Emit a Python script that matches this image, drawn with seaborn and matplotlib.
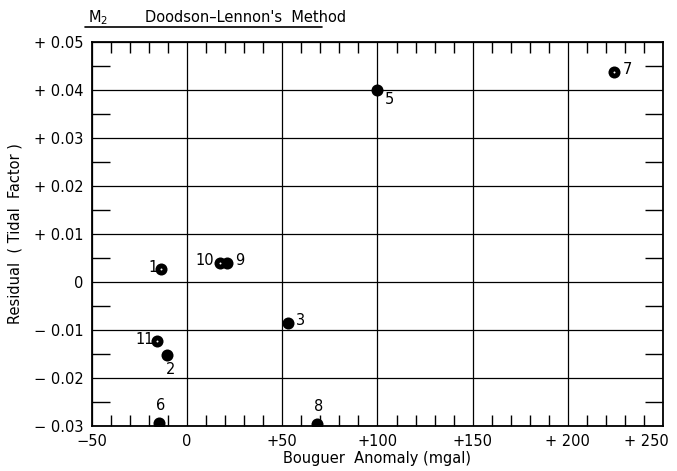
import numpy as np
import pandas as pd
import matplotlib
matplotlib.use("Agg")
import matplotlib.pyplot as plt
from matplotlib.lines import Line2D
from matplotlib.ticker import MultipleLocator
from matplotlib.transforms import ScaledTranslation
import seaborn as sns

# station number, bouguer anomaly (mgal), residual (tidal factor)
stations = ["1", "2", "3", "5", "6", "7", "8", "9", "10", "11"]
anomaly = [-14, -10.5, 53, 100, -15, 224, 68, 21, 17, -16]
residual = [0.0027, -0.0152, -0.0085, 0.040, -0.0294, 0.0438, -0.0296, 0.0040, 0.0040, -0.0123]
ringed = ["1", "7", "10", "11"]

x_ticks = [-50, 0, 50, 100, 150, 200, 250]
x_labels = ["\u221250", "0", "+50", "+100", "+150", "+ 200", "+ 250"]
y_ticks = [-0.03, -0.02, -0.01, 0, 0.01, 0.02, 0.03, 0.04, 0.05]
y_labels = ["\u2212 0.03", "\u2212 0.02", "\u2212 0.01", "0", "+ 0.01", "+ 0.02", "+ 0.03", "+ 0.04", "+ 0.05"]

# label offsets in points (styling only)
offsets = {"1": (-9, -4), "2": (-1, -16), "3": (6, -4), "5": (5, -12), "6": (-2, 7),
           "7": (7, -4), "8": (-2, 7), "9": (6, -4), "10": (-17, -4), "11": (-15, -4)}

df = pd.DataFrame({"station": stations, "anomaly": anomaly, "residual": residual})

sns.set_theme(style="white")
plt.rcParams["font.family"] = ["DejaVu Sans"]
plt.rcParams["text.color"] = "black"
plt.rcParams["axes.labelcolor"] = "black"
plt.rcParams["xtick.color"] = "black"
plt.rcParams["ytick.color"] = "black"

fig = plt.figure(figsize=(6.77, 4.71), dpi=100)
ax = fig.add_axes([0.1359, 0.0955, 0.8434, 0.8153])

sns.scatterplot(data=df, x="anomaly", y="residual", color="black", s=75,
                edgecolor="black", linewidth=0, ax=ax, zorder=5)
ring = df[df["station"].isin(ringed)]
ax.scatter(ring["anomaly"], ring["residual"], s=2, color="white",
           linewidths=0, zorder=6)

for st, xv, yv in zip(stations, anomaly, residual):
    dx, dy = offsets[st]
    ax.annotate(st, (xv, yv), xytext=(dx, dy), textcoords="offset points",
                fontsize=10.5, color="black", ha="left", va="bottom")

ax.set_xlim(-50, 250)
ax.set_ylim(-0.03, 0.05)
ax.set_xticks(x_ticks)
ax.set_xticklabels(x_labels, fontsize=10.5)
ax.set_yticks(y_ticks)
ax.set_yticklabels(y_labels, fontsize=10.5)
ax.xaxis.set_minor_locator(MultipleLocator(10))
ax.yaxis.set_minor_locator(MultipleLocator(0.005))
ax.tick_params(which="major", length=0, pad=6, labelcolor="black")
ax.tick_params(axis="x", which="minor", direction="in", length=8, width=1,
               top=True, bottom=True, color="black")
ax.tick_params(axis="y", which="minor", direction="in", length=13, width=1,
               left=True, right=True, color="black")
ax.grid(True, which="major", color="black", linewidth=0.9)
for sp in ax.spines.values():
    sp.set_color("black")
    sp.set_linewidth(1.3)

# pull the last x label in so it stays on the page
last = ax.get_xticklabels()[-1]
last.set_transform(last.get_transform() + ScaledTranslation(-12 / 72, 0, fig.dpi_scale_trans))

ax.set_xlabel("Bouguer  Anomaly (mgal)", fontsize=10.5, labelpad=1, color="black")
ax.set_ylabel("Residual  ( Tidal  Factor )", fontsize=10.5, labelpad=8, color="black")

fig.text(0.130, 0.953, "M$_2$", fontsize=10.5, ha="left", va="baseline")
fig.text(0.214, 0.953, "Doodson\u2013Lennon's  Method", fontsize=10.5, ha="left", va="baseline")
fig.add_artist(Line2D([0.126, 0.476], [0.943, 0.943], color="black", linewidth=1.2))

fig.savefig("out.png", dpi=100)
